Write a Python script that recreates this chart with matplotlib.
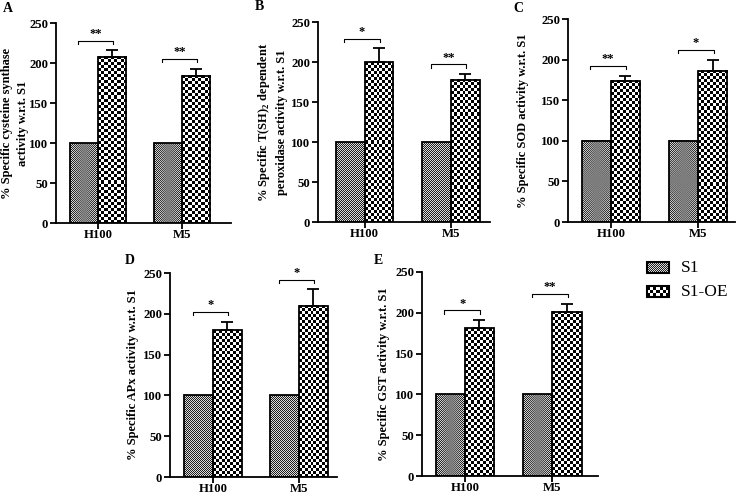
import numpy as np
import matplotlib.pyplot as plt
from matplotlib.colors import ListedColormap
from matplotlib.patches import Rectangle

plt.rcParams['font.family'] = ['Liberation Serif', 'DejaVu Serif']
plt.rcParams['mathtext.fontset'] = 'custom'
plt.rcParams['mathtext.rm'] = 'Liberation Serif:bold'
plt.rcParams['mathtext.bf'] = 'Liberation Serif:bold'

# data
groups = ['H100', 'M5']
panel_tags = ['A', 'B', 'C', 'D', 'E']
s1_vals = [100, 100]

oe_A = [208, 184]
err_A = [8, 9]
oe_B = [200, 178]
err_B = [17, 7]
oe_C = [174, 186]
err_C = [6, 14]
oe_D = [180, 210]
err_D = [10, 20]
oe_E = [181, 201]
err_E = [10, 10]

stars_A = ['**', '**']
stars_B = ['*', '**']
stars_C = ['**', '*']
stars_D = ['*', '*']
stars_E = ['*', '**']

ylabels = [
    '% Specific cysteine synthase\nactivity w.r.t. S1',
    '% Specific T(SH)$_2$ dependent\nperoxidase activity w.r.t. S1',
    '% Specific SOD activity w.r.t. S1',
    '% Specific APx activity w.r.t. S1',
    '% Specific GST activity w.r.t. S1',
]

oe_all = [oe_A, oe_B, oe_C, oe_D, oe_E]
err_all = [err_A, err_B, err_C, err_D, err_E]
stars_all = [stars_A, stars_B, stars_C, stars_D, stars_E]

W, H = 740, 494
fig = plt.figure(figsize=(7.4, 4.94), dpi=100)

# axes boxes in pixels: left, top, right, bottom
boxes = [
    (56, 23, 231, 223),
    (318, 22, 490, 222),
    (568, 19, 735, 222),
    (170, 273, 337, 477),
    (422, 272, 598, 476),
]
xlims = [(-0.5, 1.58), (-0.54, 1.45), (-0.49, 1.42), (-0.5, 1.44), (-0.49, 1.52)]
tag_pos = [(8, 8), (259, 7), (518, 8), (130, 260), (378, 260)]
label_x = [15, 272, 523, 133, 384]

bw = 0.333


def checker(ax, x0, w, h, cell_px, px_per_x, px_per_y, c1, c2, interp):
    nx = max(1, int(round(w * px_per_x / cell_px)))
    ny = max(1, int(round(h * px_per_y / cell_px)))
    img = np.add.outer(np.arange(ny), np.arange(nx)) % 2
    ax.imshow(img, cmap=ListedColormap([c1, c2]), extent=(x0, x0 + w, 0, h),
              origin='lower', interpolation=interp, aspect='auto', zorder=2)


for k in range(5):
    l, t, r, b = boxes[k]
    ax = fig.add_axes([l / W, 1 - b / H, (r - l) / W, (b - t) / H])
    x = np.arange(len(groups))
    oe = oe_all[k]
    err = err_all[k]
    xl = xlims[k]
    px_per_x = (r - l) / (xl[1] - xl[0])
    px_per_y = (b - t) / 250.0

    b1 = ax.bar(x - bw / 2, s1_vals, bw, facecolor='none', edgecolor='black', linewidth=1.3, zorder=3)
    b2 = ax.bar(x + bw / 2, oe, bw, facecolor='none', edgecolor='black', linewidth=1.3, zorder=3)
    for p in b1:
        checker(ax, p.get_x(), p.get_width(), p.get_height(), 1.0, px_per_x, px_per_y, '#1e1e1e', '#dcdcdc', 'antialiased')
    for p in b2:
        checker(ax, p.get_x(), p.get_width(), p.get_height(), 3.0, px_per_x, px_per_y, 'black', 'white', 'nearest')

    ax.errorbar(x + bw / 2, oe, yerr=[np.zeros(len(err)), err], fmt='none', ecolor='black',
                elinewidth=1.3, capsize=4, capthick=1.3, zorder=4)

    # significance brackets
    for i in range(len(groups)):
        yb = oe[i] + err[i] + 12
        xa = x[i] - bw / 2 - 0.07
        xb = x[i] + bw / 2 + 0.01
        ax.plot([xa, xa, xb, xb], [yb - 4, yb, yb, yb - 4], color='black', lw=0.8, clip_on=False, zorder=4)
        ax.text((xa + xb) / 2, yb + 1, stars_all[k][i], ha='center', va='bottom',
                fontsize=9, fontweight='bold', clip_on=False)

    ax.set_xlim(*xl)
    ax.set_ylim(0, 250)
    ax.set_yticks([0, 50, 100, 150, 200, 250])
    ax.set_xticks(x)
    ax.set_xticklabels(groups)
    for s in ['top', 'right']:
        ax.spines[s].set_visible(False)
    for s in ['left', 'bottom']:
        ax.spines[s].set_linewidth(1.3)
    ax.tick_params(axis='both', direction='out', length=4, width=1.3, labelsize=9.2)
    ax.tick_params(axis='y', pad=1.5)
    ax.tick_params(axis='x', pad=0.5)
    for lab in ax.get_xticklabels() + ax.get_yticklabels():
        lab.set_fontweight('bold')
    ax.set_ylabel(ylabels[k], fontsize=9, fontweight='bold', linespacing=1.35,
                  va='center', ha='center')
    ax.yaxis.set_label_coords((label_x[k] - l) / (r - l), 0.5)

    tx, ty = tag_pos[k]
    fig.text(tx / W, 1 - ty / H, panel_tags[k], fontsize=10, fontweight='bold', ha='center', va='center')

# legend drawn in pixel space
lax = fig.add_axes([0, 0, 1, 1])
lax.set_xlim(0, W)
lax.set_ylim(H, 0)
lax.axis('off')
leg_names = ['S1', 'S1-OE']
leg_cells = [1.0, 3.0]
leg_cols = [('#1e1e1e', '#dcdcdc'), ('black', 'white')]
for j, name in enumerate(leg_names):
    y0 = 262 + j * 24
    img = np.add.outer(np.arange(int(11 / leg_cells[j])), np.arange(int(22 / leg_cells[j]))) % 2
    lax.imshow(img, cmap=ListedColormap(list(leg_cols[j])), extent=(647, 669, y0 + 11, y0),
               interpolation='antialiased' if j == 0 else 'nearest', aspect='auto')
    lax.add_patch(Rectangle((647, y0), 22, 11, facecolor='none', edgecolor='black', lw=1.5))
    lax.text(681, y0 + 5.5, name, fontsize=12.5, ha='left', va='center')
lax.set_xlim(0, W)
lax.set_ylim(H, 0)

fig.savefig('out.png', dpi=100)
